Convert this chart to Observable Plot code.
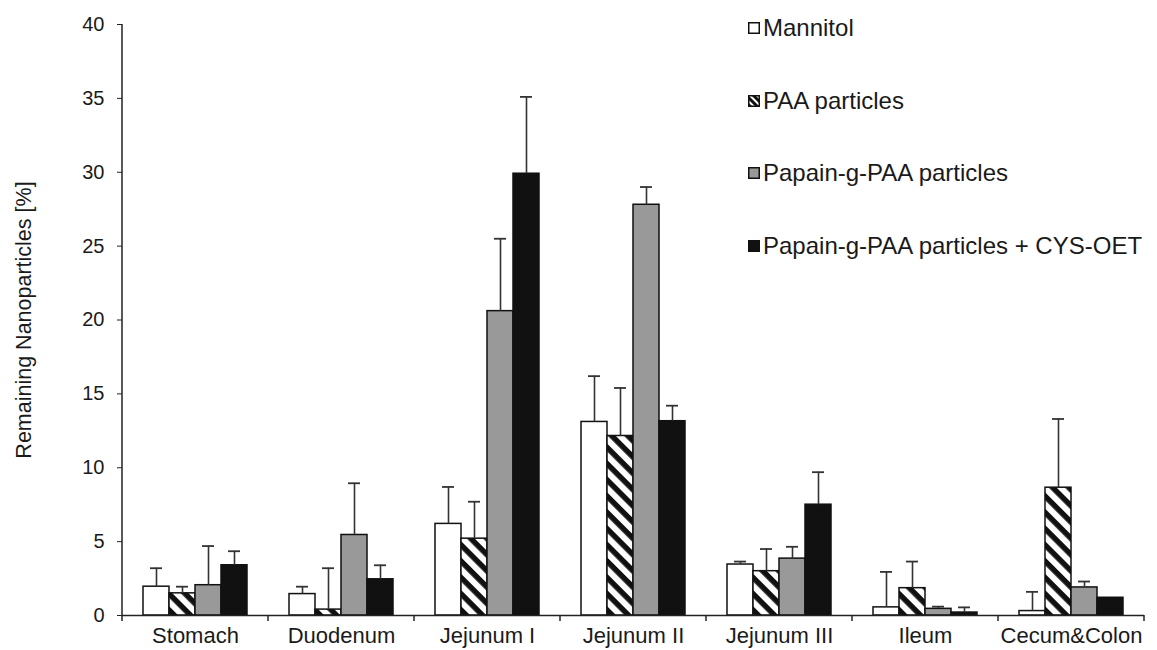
<!DOCTYPE html>
<html>
<head>
<meta charset="utf-8">
<script src="https://cdn.jsdelivr.net/npm/d3@7"></script>
<script src="https://cdn.jsdelivr.net/npm/@observablehq/plot@0.6"></script>
<style>
  html, body { margin: 0; padding: 0; background: #fff; }
  #wrap { position: relative; width: 1157px; height: 650px; overflow: hidden;
          font-family: "Liberation Sans", Arial, sans-serif; }
  #legend { position: absolute; left: 748px; top: 0; }
  .row { position: absolute; left: 0; display: flex; align-items: center; white-space: nowrap;
         height: 26px; font-size: 24px; color: #1a1a1a; }
  .row svg { margin-right: 3px; flex: none; }
</style>
</head>
<body>
<div id="wrap"><div id="legend"></div></div>
<script>
// ---- data ----
const categories = ["Stomach", "Duodenum", "Jejunum I", "Jejunum II", "Jejunum III", "Ileum", "Cecum&Colon"];
const series = ["Mannitol", "PAA particles", "Papain-g-PAA particles", "Papain-g-PAA particles + CYS-OET"];

const mannitolMean = [1.95, 1.45, 6.2, 13.1, 3.45, 0.55, 0.3];
const mannitolSD   = [1.25, 0.5, 2.5, 3.1, 0.2, 2.4, 1.3];
const paaMean      = [1.5, 0.4, 5.2, 12.15, 3.0, 1.85, 8.65];
const paaSD        = [0.45, 2.8, 2.5, 3.25, 1.5, 1.8, 4.65];
const papainMean   = [2.05, 5.45, 20.6, 27.8, 3.85, 0.45, 1.9];
const papainSD     = [2.65, 3.5, 4.9, 1.2, 0.8, 0.15, 0.4];
const cysMean      = [3.4, 2.45, 29.9, 13.15, 7.5, 0.2, 1.2];
const cysSD        = [0.95, 0.95, 5.2, 1.05, 2.2, 0.35, 0];

const yTicks = [0, 5, 10, 15, 20, 25, 30, 35, 40];
const yLabel = "Remaining Nanoparticles [%]";

// ---- styles ----
const fills = ["#ffffff", "url(#hatch)", "#999999", "#111111"];
const swatchFills = ["#ffffff", "url(#hatchSw)", "#999999", "#111111"];

const means = [mannitolMean, paaMean, papainMean, cysMean];
const sds = [mannitolSD, paaSD, papainSD, cysSD];
const data = categories.flatMap((c, i) =>
  series.map((s, j) => ({category: c, series: s, value: means[j][i], sd: sds[j][i]})));
const errs = data.filter(d => d.sd > 0);

const chart = Plot.plot({
  width: 1157,
  height: 650,
  marginLeft: 120,
  marginRight: 11,
  marginTop: 24,
  marginBottom: 35,
  style: {fontFamily: "'Liberation Sans', Arial, sans-serif", color: "#1a1a1a", background: "white", overflow: "visible"},
  fx: {domain: categories, padding: 0},
  x: {domain: series, paddingInner: 0, paddingOuter: 0.75, axis: null},
  y: {domain: [0, 40]},
  color: {domain: series, range: fills},
  marks: [
    Plot.barY(data, {fx: "category", x: "series", y: "value", fill: "series",
      stroke: "#111", strokeWidth: 1.5, inset: 0}),
    Plot.ruleX(errs, {fx: "category", x: "series", y1: "value", y2: d => d.value + d.sd,
      stroke: "#333", strokeWidth: 1.6}),
    Plot.tickY(errs, {fx: "category", x: "series", y: d => d.value + d.sd,
      stroke: "#333", strokeWidth: 1.8, insetLeft: 7, insetRight: 7}),
    Plot.ruleY([0], {stroke: "#222", strokeWidth: 1.5}),
    Plot.axisY({ticks: yTicks, tickSize: 5, tickPadding: 13, fontSize: 20, label: null, stroke: "#222"}),
    Plot.axisY({ticks: [], label: yLabel, labelAnchor: "center", labelArrow: "none",
      labelOffset: 107, fontSize: 21.5}),
    Plot.axisFx({anchor: "bottom", tickSize: 0, tickPadding: 12, fontSize: 22, label: null})
  ]
});

// hatch pattern definition
const svg = d3.select(chart);
const defs = svg.insert("defs", ":first-child");
const pat = defs.append("pattern").attr("id", "hatch").attr("patternUnits", "userSpaceOnUse")
  .attr("width", 11.5).attr("height", 11.5).attr("patternTransform", "rotate(45)");
pat.append("rect").attr("width", 11.5).attr("height", 11.5).attr("fill", "#fff");
pat.append("rect").attr("width", 11.5).attr("height", 5.5).attr("fill", "#111");

// axis line and category boundary ticks from the chart's own scales
const fx = chart.scale("fx"), y = chart.scale("y");
const y0 = y.apply(0), yTop = y.apply(40);
const left = fx.apply(categories[0]);
const edges = categories.map(c => fx.apply(c)).concat([fx.apply(categories[categories.length - 1]) + fx.bandwidth]);
const g = svg.append("g").attr("stroke", "#222").attr("stroke-width", 1.5);
g.append("line").attr("x1", left).attr("x2", left).attr("y1", y0).attr("y2", yTop);
g.selectAll("line.edge").data(edges).join("line").attr("class", "edge")
  .attr("x1", d => d).attr("x2", d => d).attr("y1", y0).attr("y2", y0 + 6);

document.getElementById("wrap").prepend(chart);

// legend (top right, inside plot area)
const legend = d3.select("#legend");
series.forEach((s, i) => {
  const row = legend.append("div").attr("class", "row").style("top", (15 + i * 72.5) + "px");
  const sw = row.append("svg").attr("width", 12).attr("height", 12);
  if (i === 1) {
    const p = sw.append("defs").append("pattern").attr("id", "hatchSw").attr("patternUnits", "userSpaceOnUse")
      .attr("width", 5).attr("height", 5).attr("patternTransform", "rotate(45)");
    p.append("rect").attr("width", 5).attr("height", 5).attr("fill", "#fff");
    p.append("rect").attr("width", 5).attr("height", 3).attr("fill", "#111");
  }
  sw.append("rect").attr("x", 0.75).attr("y", 0.75).attr("width", 10.5).attr("height", 10.5)
    .attr("fill", swatchFills[i]).attr("stroke", "#111").attr("stroke-width", 1.5);
  row.append("span").text(s);
});
</script>
</body>
</html>
